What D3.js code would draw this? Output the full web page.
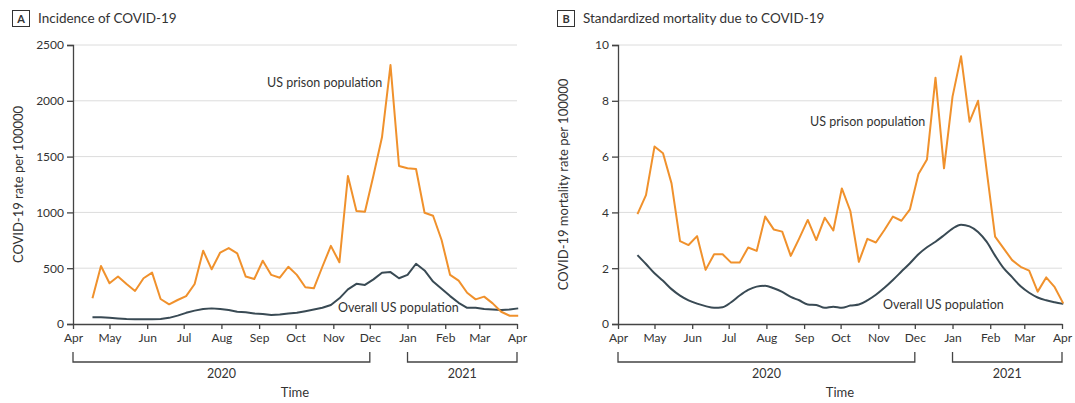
<!DOCTYPE html>
<html>
<head>
<meta charset="utf-8">
<script src="https://cdn.jsdelivr.net/npm/d3@7"></script>
<style>
  body { margin: 0; background: #fff; }
  svg text { font-family: Lato, "Open Sans", sans-serif; fill: #333; }
  .grid line { stroke: #dcdcdc; stroke-width: 1; }
  .axis path, .axis line { stroke: #444; }
  .line { fill: none; stroke-width: 2; stroke-linejoin: round; }
</style>
</head>
<body>
<div id="chart"></div>
<script>
// week-ending dates (shared by both panels)
const weeks = [
  "2020-04-17","2020-04-24","2020-05-01","2020-05-08","2020-05-15","2020-05-22","2020-05-29",
  "2020-06-05","2020-06-12","2020-06-19","2020-06-26","2020-07-03","2020-07-10","2020-07-17",
  "2020-07-24","2020-07-31","2020-08-07","2020-08-14","2020-08-21","2020-08-28","2020-09-04",
  "2020-09-11","2020-09-18","2020-09-25","2020-10-02","2020-10-09","2020-10-16","2020-10-23",
  "2020-10-30","2020-11-06","2020-11-13","2020-11-20","2020-11-27","2020-12-04","2020-12-11",
  "2020-12-18","2020-12-25","2021-01-01","2021-01-08","2021-01-15","2021-01-22","2021-01-29",
  "2021-02-05","2021-02-12","2021-02-19","2021-02-26","2021-03-05","2021-03-12","2021-03-19",
  "2021-03-26","2021-04-02"
];

// Panel A: incidence per 100000
const incidencePrison = [
  230, 520, 365, 425, 358, 296, 410, 460, 224, 176, 215, 250, 358, 657, 490, 640, 680,
  633, 425, 403, 567, 440, 415, 513, 440, 329, 320, 513, 700, 553, 1326, 1012, 1006,
  1330, 1673, 2320, 1416, 1395, 1389, 997, 970, 753, 440, 388, 280, 221, 245, 185, 110, 74, 74
];
const incidenceUS = [
  60, 60, 55, 50, 45, 42, 42, 42, 45, 55, 75, 100, 120, 135, 140, 135, 125,
  110, 105, 95, 90, 80, 85, 95, 100, 115, 130, 145, 170, 230, 310, 360, 350,
  400, 460, 465, 410, 440, 540, 480, 380, 315, 250, 190, 145, 145, 135, 130, 125, 130, 140
];

// Panel B: standardized mortality per 100000
const mortalityPrison = [
  3.94, 4.62, 6.36, 6.12, 5.04, 2.97, 2.83, 3.15, 1.94, 2.5, 2.5, 2.2, 2.2, 2.74, 2.62, 3.85, 3.39,
  3.31, 2.44, 3.07, 3.73, 3.01, 3.81, 3.35, 4.86, 4.05, 2.23, 3.05, 2.92, 3.37, 3.85, 3.7, 4.11,
  5.38, 5.9, 8.83, 5.58, 8.15, 9.6, 7.25, 8.0, 5.52, 3.13, 2.71, 2.29, 2.05, 1.91, 1.16, 1.67, 1.32, 0.74
];
const mortalityUS = [
  2.47, 2.15, 1.82, 1.55, 1.25, 1.02, 0.85, 0.73, 0.64, 0.58, 0.6, 0.78, 1.02, 1.22, 1.34, 1.37, 1.28,
  1.15, 0.97, 0.85, 0.7, 0.68, 0.58, 0.62, 0.58, 0.66, 0.7, 0.85, 1.05, 1.3, 1.58, 1.88, 2.18,
  2.5, 2.75, 2.95, 3.18, 3.42, 3.56, 3.5, 3.3, 2.95, 2.45, 2.0, 1.68, 1.35, 1.12, 0.95, 0.85, 0.78, 0.72
];

const ticksA = [0, 500, 1000, 1500, 2000, 2500];
const ticksB = [0, 2, 4, 6, 8, 10];

const parse = d3.timeParse("%Y-%m-%d");
const dates = weeks.map(parse);

const orange = "#f0912c";
const slate = "#394a54";

const svg = d3.select("#chart")
  .append("svg")
  .attr("width", 1075)
  .attr("height", 403);

function drawPanel(opt) {
  const left = opt.left, right = opt.left + 444;
  const top = 45, bottom = 324;

  const x = d3.scaleTime()
    .domain([new Date(2020, 3, 1), new Date(2021, 3, 1)])
    .range([left, right]);

  const y = d3.scaleLinear()
    .domain([0, d3.max(opt.ticks)])
    .range([bottom, top]);

  // panel title with boxed letter
  svg.append("rect")
    .attr("x", left - 60.5).attr("y", 10.5)
    .attr("width", 17).attr("height", 16)
    .attr("fill", "none").attr("stroke", "#333");
  svg.append("text")
    .attr("x", left - 52).attr("y", 22.5)
    .attr("text-anchor", "middle")
    .attr("font-size", "11px").attr("font-weight", "bold")
    .text(opt.letter);
  svg.append("text")
    .attr("x", left - 35).attr("y", 23)
    .attr("font-size", "13.5px")
    .text(opt.title);

  // gridlines
  svg.append("g")
    .attr("class", "grid")
    .selectAll("line")
    .data(opt.ticks.filter(d => d > 0))
    .join("line")
    .attr("x1", left).attr("x2", right)
    .attr("y1", d => y(d)).attr("y2", d => y(d));

  // axes
  const yAxis = svg.append("g")
    .attr("class", "axis")
    .attr("transform", `translate(${left},0)`)
    .call(d3.axisLeft(y).tickValues(opt.ticks).tickFormat(d3.format("d"))
      .tickSize(6).tickPadding(3));
  yAxis.selectAll("text").attr("font-size", "12px").attr("font-family", "Lato, sans-serif");
  yAxis.selectAll("path, line").attr("stroke-width", 1.3);

  const xAxis = svg.append("g")
    .attr("class", "axis")
    .attr("transform", `translate(0,${bottom})`)
    .call(d3.axisBottom(x).ticks(d3.timeMonth.every(1)).tickFormat(d3.timeFormat("%b"))
      .tickSize(5).tickSizeOuter(0).tickPadding(4));
  xAxis.selectAll("text").attr("font-size", "12px").attr("font-family", "Lato, sans-serif");
  xAxis.selectAll("path, line").attr("stroke-width", 1.3);

  // year brackets
  const years = [
    { label: "2020", from: new Date(2020, 3, 1), to: new Date(2020, 11, 1) },
    { label: "2021", from: new Date(2021, 0, 1), to: new Date(2021, 3, 1) }
  ];
  years.forEach(yr => {
    const x0 = x(yr.from), x1 = x(yr.to);
    svg.append("path")
      .attr("d", `M${x0},352V362H${x1}V352`)
      .attr("fill", "none").attr("stroke", "#444").attr("stroke-width", 1.3);
    svg.append("text")
      .attr("x", (x0 + x1) / 2).attr("y", 378)
      .attr("text-anchor", "middle").attr("font-size", "12.5px")
      .text(yr.label);
  });

  svg.append("text")
    .attr("x", (left + right) / 2).attr("y", 397)
    .attr("text-anchor", "middle").attr("font-size", "13px")
    .text("Time");

  svg.append("text")
    .attr("transform", `translate(${left - 50},${(top + bottom) / 2}) rotate(-90)`)
    .attr("text-anchor", "middle").attr("font-size", "13px")
    .text(opt.yLabel);

  // lines
  const line = d3.line()
    .x((d, i) => x(dates[i]))
    .y(d => y(d));

  svg.append("path")
    .datum(opt.us)
    .attr("class", "line")
    .attr("stroke", slate)
    .attr("d", line.curve(opt.usCurve));

  svg.append("path")
    .datum(opt.prison)
    .attr("class", "line")
    .attr("stroke", orange)
    .attr("d", line.curve(d3.curveLinear));

  // series labels
  svg.append("text")
    .attr("x", opt.prisonLabel[0]).attr("y", opt.prisonLabel[1])
    .attr("font-size", "12.5px").attr("fill", "#444")
    .text("US prison population");
  svg.append("text")
    .attr("x", opt.usLabel[0]).attr("y", opt.usLabel[1])
    .attr("font-size", "12.5px").attr("fill", "#444")
    .text("Overall US population");
}

drawPanel({
  left: 73,
  letter: "A",
  title: "Incidence of COVID-19",
  yLabel: "COVID-19 rate per 100000",
  ticks: ticksA,
  prison: incidencePrison,
  us: incidenceUS,
  usCurve: d3.curveLinear,
  prisonLabel: [267, 87],
  usLabel: [338, 312]
});

drawPanel({
  left: 618,
  letter: "B",
  title: "Standardized mortality due to COVID-19",
  yLabel: "COVID-19 mortality rate per 100000",
  ticks: ticksB,
  prison: mortalityPrison,
  us: mortalityUS,
  usCurve: d3.curveMonotoneX,
  prisonLabel: [810, 126],
  usLabel: [883, 309]
});
</script>
</body>
</html>
